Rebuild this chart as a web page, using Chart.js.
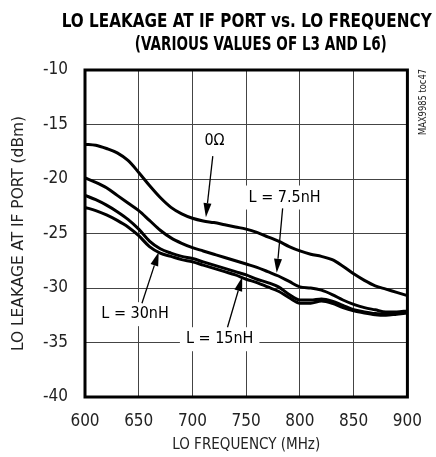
<!DOCTYPE html>
<html>
<head>
<meta charset="utf-8">
<script src="https://cdn.jsdelivr.net/npm/chart.js@4.4.0/dist/chart.umd.min.js"></script>
<style>
  html, body { margin: 0; padding: 0; background: #fff; }
</style>
</head>
<body>
<canvas id="leakChart" width="436" height="457"></canvas>
<script>
// ==========================
// Data : LO leakage at IF port (dBm) vs LO frequency (MHz)
// ==========================
const freqMHz = [600, 610, 620, 630, 640, 650, 660, 670, 680, 690, 700, 710, 720, 730, 740, 750,
                 760, 770, 780, 790, 800, 810, 820, 830, 840, 850, 860, 870, 880, 890, 900];

const leak0ohm = [-16.8, -16.9, -17.2, -17.6, -18.3, -19.4, -20.6, -21.7, -22.6, -23.2, -23.6, -23.85, -24.0, -24.2, -24.4, -24.6,
                  -24.9, -25.3, -25.7, -26.2, -26.6, -26.9, -27.1, -27.4, -28.0, -28.7, -29.3, -29.8, -30.1, -30.4, -30.7];
const leak7n5 = [-19.9, -20.3, -20.8, -21.5, -22.2, -22.9, -23.8, -24.7, -25.4, -25.9, -26.3, -26.6, -26.9, -27.2, -27.5, -27.8,
                 -28.1, -28.5, -28.9, -29.4, -29.9, -30.0, -30.2, -30.6, -31.1, -31.5, -31.8, -32.0, -32.2, -32.2, -32.1];
const leak15n = [-21.5, -21.9, -22.4, -23.0, -23.7, -24.6, -25.7, -26.4, -26.8, -27.1, -27.3, -27.6, -27.9, -28.2, -28.5, -28.8,
                 -29.2, -29.5, -29.9, -30.6, -31.1, -31.1, -31.0, -31.2, -31.6, -32.0, -32.2, -32.35, -32.4, -32.3, -32.2];
const leak30n = [-22.6, -22.9, -23.3, -23.8, -24.4, -25.2, -26.2, -26.8, -27.1, -27.4, -27.6, -27.9, -28.2, -28.5, -28.8, -29.2,
                 -29.5, -29.9, -30.3, -30.9, -31.4, -31.4, -31.2, -31.4, -31.8, -32.1, -32.3, -32.45, -32.5, -32.4, -32.3];

const xTicks = [600, 650, 700, 750, 800, 850, 900];
const yTicks = [-40, -35, -30, -25, -20, -15, -10];

// ==========================
// Texts
// ==========================
const titleLines = ["LO LEAKAGE AT IF PORT vs. LO FREQUENCY", "(VARIOUS VALUES OF L3 AND L6)"];
const yTitle = "LO LEAKAGE AT IF PORT (dBm)";
const xTitle = "LO FREQUENCY (MHz)";
const partTag = "MAX9985 toc47";

// curve labels, placed in data units (MHz, dBm) ; arrow goes from -> to
const notes = [
  { text: "0\u03A9",      at: [720.5, -16.5], from: [718.9, -17.9], to: [712.5, -23.5], box: false },
  { text: "L = 7.5nH", at: [785.7, -21.7], from: [783.9, -22.7], to: [778.4, -28.6], box: true },
  { text: "L = 30nH",  at: [646.6, -32.4], from: [653.0, -31.4], to: [668.6, -26.7], box: true },
  { text: "L = 15nH",  at: [725.3, -34.7], from: [732.6, -33.6], to: [746.3, -29.0], box: true }
];

const NARROW = "'Liberation Sans Narrow', 'DejaVu Sans Condensed', 'Roboto Condensed', 'Liberation Sans', Arial, sans-serif";

// texte écrasé horizontalement pour tenir dans une largeur donnée
function fitText(ctx, text, cx, cy, width) {
  const w = ctx.measureText(text).width;
  const k = width ? width / w : 1;
  ctx.save();
  ctx.translate(cx, cy);
  ctx.scale(k, 1);
  ctx.fillText(text, 0, 0);
  ctx.restore();
}

function arrow(ctx, x1, y1, x2, y2) {
  const ang = Math.atan2(y2 - y1, x2 - x1);
  const len = 14, half = 4;
  const bx = x2 - len * Math.cos(ang), by = y2 - len * Math.sin(ang);
  ctx.beginPath();
  ctx.moveTo(x1, y1);
  ctx.lineTo(bx, by);
  ctx.lineWidth = 1.3;
  ctx.stroke();
  ctx.beginPath();
  ctx.moveTo(x2, y2);
  ctx.lineTo(bx + half * Math.sin(ang), by - half * Math.cos(ang));
  ctx.lineTo(bx - half * Math.sin(ang), by + half * Math.cos(ang));
  ctx.closePath();
  ctx.fill();
}

const decorPlugin = {
  id: "decor",
  beforeDatasetsDraw(chart) {
    const { ctx, scales: { x, y } } = chart;
    // fonds blancs des étiquettes (coupent la grille)
    ctx.save();
    ctx.font = "16px " + NARROW;
    notes.forEach(n => {
      if (!n.box) return;
      const cx = x.getPixelForValue(n.at[0]);
      const cy = y.getPixelForValue(n.at[1]);
      const w = ctx.measureText(n.text).width;
      ctx.fillStyle = "#fff";
      ctx.fillRect(cx - w / 2 - 6, cy - 12, w + 12, 24);
    });
    ctx.restore();
  },
  afterDraw(chart) {
    const { ctx, chartArea: a, scales: { x, y } } = chart;
    ctx.save();

    // cadre épais
    ctx.strokeStyle = "#000";
    ctx.lineWidth = 3;
    ctx.strokeRect(a.left, a.top, a.right - a.left, a.bottom - a.top);

    // titre
    ctx.fillStyle = "#000";
    ctx.textAlign = "center";
    ctx.textBaseline = "alphabetic";
    ctx.font = "bold 19px " + NARROW;
    fitText(ctx, titleLines[0], 246.7, 27, 370);
    fitText(ctx, titleLines[1], 260.8, 50, 252);

    // titres d'axes
    ctx.fillStyle = "#222";
    ctx.font = "15px " + NARROW;
    ctx.textBaseline = "middle";
    fitText(ctx, xTitle, (a.left + a.right) / 2, 445, 148);
    ctx.save();
    ctx.translate(19, (a.top + a.bottom) / 2);
    ctx.rotate(-Math.PI / 2);
    fitText(ctx, yTitle, 0, 0, 235);
    ctx.restore();

    // référence du tracé
    ctx.save();
    ctx.font = "10px " + NARROW;
    ctx.translate(423, 102);
    ctx.rotate(-Math.PI / 2);
    fitText(ctx, partTag, 0, 0, 66);
    ctx.restore();

    // étiquettes + flèches
    ctx.fillStyle = "#000";
    ctx.strokeStyle = "#000";
    ctx.font = "16px " + NARROW;
    notes.forEach(n => {
      fitText(ctx, n.text, x.getPixelForValue(n.at[0]), y.getPixelForValue(n.at[1]));
      arrow(ctx,
        x.getPixelForValue(n.from[0]), y.getPixelForValue(n.from[1]),
        x.getPixelForValue(n.to[0]), y.getPixelForValue(n.to[1]));
    });

    ctx.restore();
  }
};

function serie(label, values) {
  return {
    label: label,
    data: freqMHz.map((f, i) => ({ x: f, y: values[i] })),
    borderColor: "#000",
    borderWidth: 3,
    pointRadius: 0,
    cubicInterpolationMode: "monotone",
    fill: false
  };
}

// ==========================
// Graph
// ==========================
new Chart(document.getElementById("leakChart"), {
  type: "line",
  data: {
    datasets: [
      serie("0\u03A9", leak0ohm),
      serie("L = 7.5nH", leak7n5),
      serie("L = 15nH", leak15n),
      serie("L = 30nH", leak30n)
    ]
  },
  options: {
    responsive: false,
    animation: false,
    layout: { padding: { top: 70, right: 22, left: 0, bottom: 0 } },
    plugins: { legend: { display: false }, tooltip: { enabled: false } },
    scales: {
      x: {
        type: "linear",
        min: 600, max: 900,
        afterBuildTicks: s => { s.ticks = xTicks.map(v => ({ value: v })); },
        afterFit: s => { s.height = 60; },
        grid: { color: "#444", lineWidth: 1, drawTicks: false },
        border: { display: false },
        ticks: { color: "#222", padding: 14, font: { family: NARROW, size: 17 } }
      },
      y: {
        min: -40, max: -10,
        afterBuildTicks: s => { s.ticks = yTicks.map(v => ({ value: v })); },
        afterFit: s => { s.width = 85; },
        grid: { color: "#444", lineWidth: 1, drawTicks: false },
        border: { display: false },
        ticks: { color: "#222", padding: 17, font: { family: NARROW, size: 17 } }
      }
    }
  },
  plugins: [decorPlugin]
});
</script>
</body>
</html>
